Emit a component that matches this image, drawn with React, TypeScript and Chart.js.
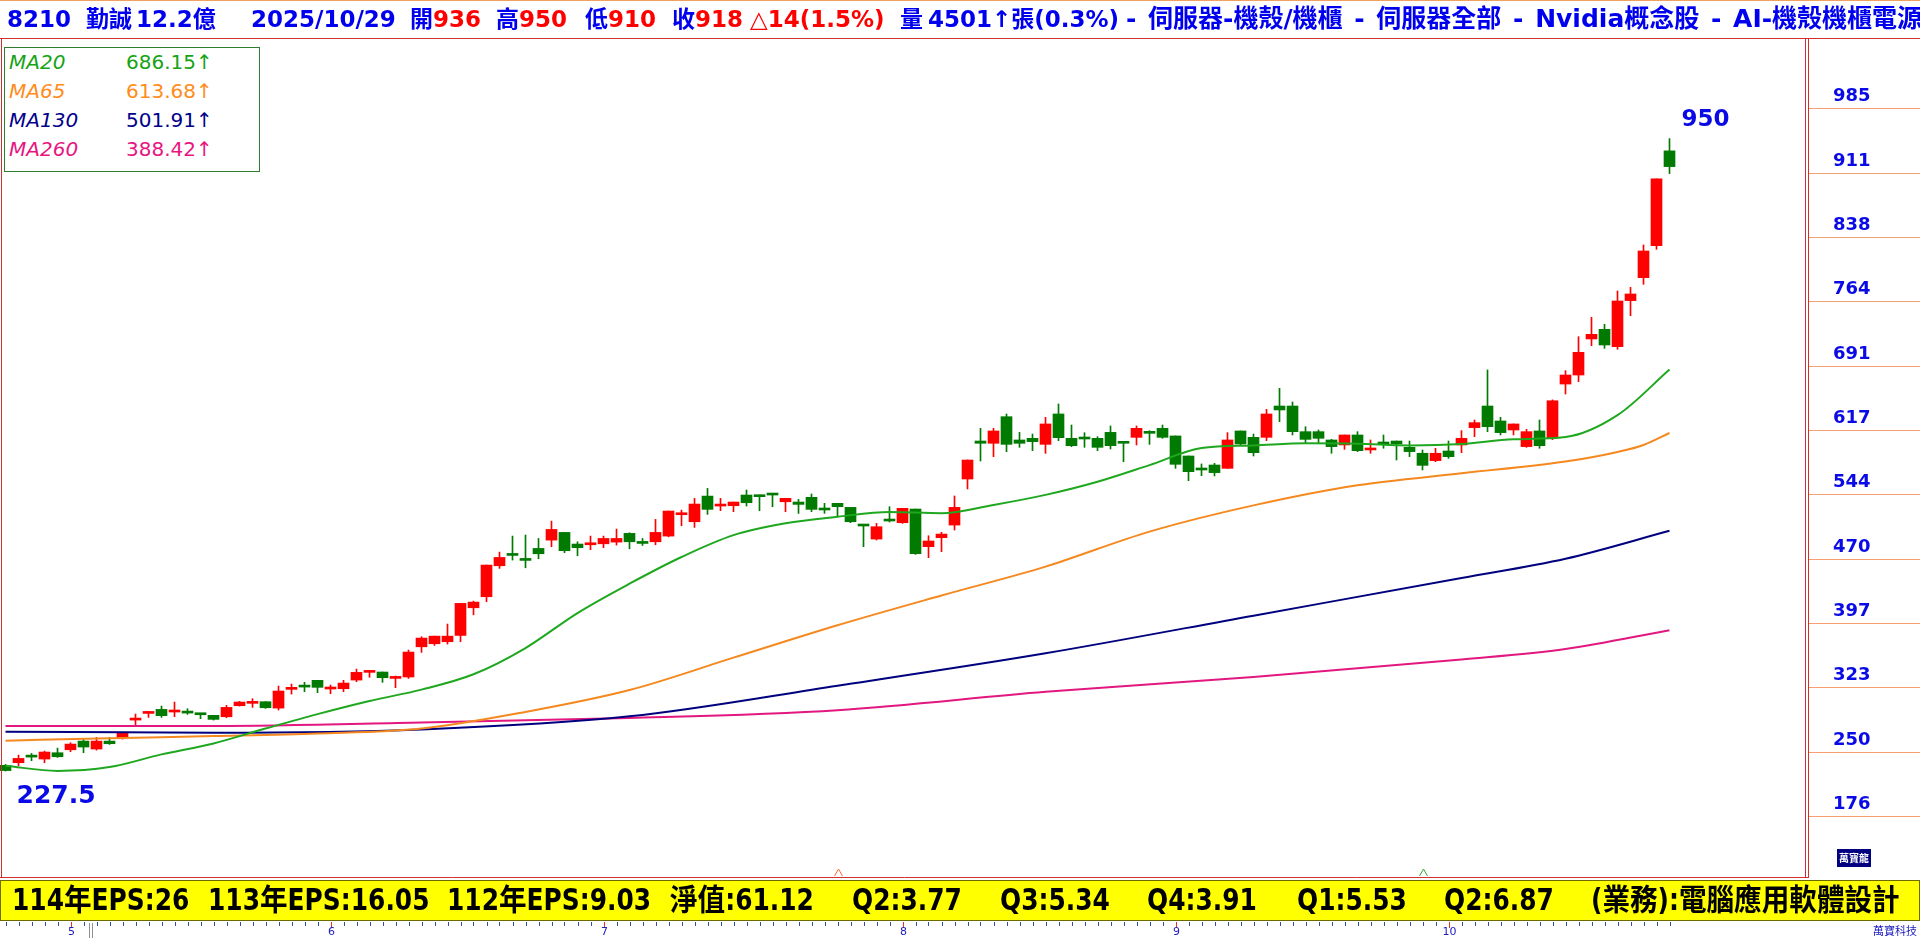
import React, { useEffect, useRef } from 'react';
import { Chart, registerables } from 'chart.js';
Chart.register(...registerables);

// ---------------- data ----------------
const opens = [234,237,243.5,241.2,248.4,251.8,261.7,252.6,261.7,265.5,
285.7,293.3,297.9,294.9,293.8,293.3,291.1,289.5,302.1,304.8,
306.7,299.4,320.8,323.5,331.1,321.2,321.5,331.4,340.2,340.6,
333.3,334.9,369.4,372.9,375.2,382.4,414,426.6,462,473.9,
468.2,481.8,491.3,500.1,486.8,486,487.1,489,499,489.8,
489.4,495.9,520.3,512.3,541.6,530.2,530.6,542.8,541,542.9,
535.1,534.8,540.2,525.8,533.3,528.7,507.5,492.5,513.2,511.2,
526.8,483.8,494.1,508.5,561.1,604.5,601.9,632.3,605.7,607.6,
600.7,635.4,607.6,606.9,607.6,614.4,602,608.7,613.4,619,
610.3,587.4,571.5,577.1,573.3,616,608.7,608.7,644.5,644.5,
615.2,615.2,605.7,600,611.4,594.3,601.2,604.5,597.3,590.5,
582.1,593.1,600,619.8,644.5,627.4,617.1,598.1,616,608,
669.6,679.9,721.1,732.1,712.3,764.9,791.1,827.7,936];

const highs = [235,245.7,247.6,250.3,253.7,259.8,264,265.9,265.9,270.5,
292.6,295.6,301.7,306.3,298.7,293.3,291.1,302.5,307.1,310.1,
306.7,324.6,326.9,328.8,331.1,325.7,331.1,344,342.1,340.6,
336,365.7,380.9,381.6,395.4,419,421.6,462.8,477.6,495.9,
497.1,493.2,513,500.1,489.4,495.9,495.9,503.9,499.7,493.2,
515,524.5,525.6,539,550.4,539,534.8,548.5,542.8,543.5,
539,537.8,544,533.3,533.3,528.7,507.5,510.4,529.5,527.6,
526.8,496.3,500.2,541.7,582.8,619,619,635.4,614.4,612.5,
631.6,646.8,622.8,614,609.5,621.7,602.6,621.7,616.3,622.8,
610.3,587.4,578.3,579,614.1,616,612.5,640.7,664.7,649.1,
620.9,617.1,606.4,611.4,615.2,605.7,611.4,604.5,604.5,594.3,
596.2,604.5,616.4,628.5,685.7,631.6,624,617.9,628.5,651.5,
684.9,723.7,745.8,737.8,775.9,780.1,828.5,904,950];

const lows = [227.5,233.5,239.3,237,243.1,249.5,248.4,251.4,257.9,264,
279.6,288.8,288.8,289.5,292.2,287.3,285.7,288.4,301.7,300.2,
299.1,297.2,315.4,318.1,317,315.8,318.1,329.5,334.5,328.8,
322.7,333.3,363,371,372.5,375.2,406,420.9,459,468.5,
459.7,470,483.7,476.9,473.4,480.3,482.6,485.6,481.4,485.2,
486,495.1,507.7,505.8,520.7,524.9,523.7,530.2,524.9,529.4,
523.7,521.8,523.8,521.9,518.8,511.2,483.8,491.4,512,510.4,
475,471.2,478.1,502.8,549.7,581.7,586.6,592.3,597.3,593.5,
590.4,604.9,598,597.3,593.5,595.4,580.9,600,600.7,607.6,
573.3,559.2,564.9,564.6,573.3,600,587.4,604.9,626.6,611.4,
602.6,602.6,590.5,595,592.4,590.5,596.2,582.8,586.6,571.4,
580.9,584.7,591.2,609.5,615.2,611.4,611.4,597.3,596.2,606,
658.2,672.3,713.4,710.4,709.3,747.7,783.5,823.5,910];

const closes = [228,241.9,243.4,249.2,243.8,258.3,254.9,261.7,258.7,270.5,
285.7,293.3,290.7,294.9,293.7,291.8,286.5,300.2,306.3,304.8,
299.8,318.9,320.8,323.4,323.1,321.2,328,340.2,340.2,334.1,
333.3,363.4,379.4,381.6,381.6,419,420.5,462.8,471.5,473.8,
468.1,475.7,503.5,479.2,482.6,486,493.2,493.2,489.4,487.5,
500.1,524.5,520.3,532.5,526.4,530.2,534.8,534,540.9,542.8,
539,532.1,526.4,525.7,529.5,512.3,507.4,506.6,513.1,527.6,
475.8,490.3,498.2,528.7,582.8,601.9,616,600.7,601.9,603.8,
624,608.3,599.2,606.8,597.3,599.2,601.9,619,613.3,608.7,
577.9,569.5,571.4,568.4,605.7,601.1,591.2,635.4,640,615.2,
606.4,607.6,598.1,611.4,593.5,594.3,601.1,601.1,592.4,576.7,
590.5,586.6,607.6,625.5,620.9,614.1,624,615.2,599.2,650.5,
679.9,705.8,726.4,714.2,764.5,772.5,821.6,904,918];

// moving averages read at sampled candle positions
const ma20Idx = [0,4,8,12,16,20,24,28,32,36,40,44,48,52,56,60,64,68,72,76,80,84,88,92,96,100,104,108,112,116,120,124,128];
const ma20 = [233.5,227.6,232,246.5,259,276,292.5,307.5,320.5,338,368,408,441.5,472,497,510.5,518,523.5,522,531.5,543,558,577,596.5,599.5,602,601.5,599.5,601,606.5,609,634,686.15];
const ma65Idx = [0,8,16,24,32,40,48,56,64,72,80,88,96,104,112,120,124,126,128];
const ma65 = [262.1,265,267.4,270.3,276,295,320,357,394,428,461,501,531,554,567.6,581,592,600,613.68];
const ma130Idx = [0,16,32,48,64,80,96,112,120,128];
const ma130 = [272.4,271.3,275,290,325,362,405,448,470,501.91];
const ma260Idx = [0,16,32,48,64,80,96,112,120,128];
const ma260 = [278.9,279,283,288,297,318,335,355,367,388.42];

const yTicks = [176,249.5,323,396.5,470,543.5,617,690.5,764,837.5,911,984.5];
const yTickLabels = ['176','250','323','397','470','544','617','691','764','838','911','985'];

const monthStartIdx = [5,25,46,69,90,111];
const monthLabels = ['5','6','7','8','9','10'];

const legendNames = ['MA20','MA65','MA130','MA260'];
const legendValues = ['686.15↑','613.68↑','501.91↑','388.42↑'];
const legendColors = ['#16a316','#ff8c1a','#00008b','#e8157f'];

const epsTexts = ['114年EPS:26','113年EPS:16.05','112年EPS:9.03','淨值:61.12','Q2:3.77','Q3:5.34','Q4:3.91','Q1:5.53','Q2:6.87','(業務):電腦應用軟體設計'];
const epsX = [12,208,447,670,852,1000,1147,1297,1444,1591];

const markerIdx = [64,109];
const markerColors = ['#ff6a3d','#2ea82e'];

const BLUE = '#0000ee';
const HRED = '#ff0000';
const headerItems: [string, number, string][] = [
  ['8210',7,BLUE],['勤誠',86,BLUE],['12.2億',136,BLUE],['2025/10/29',251,BLUE],
  ['開',410,BLUE],['936',433,HRED],['高',496,BLUE],['950',519,HRED],['低',585,BLUE],['910',608,HRED],
  ['收',672,BLUE],['918',695,HRED],['△14(1.5%)',750,HRED],['量',900,BLUE],['4501↑張(0.3%)',928,BLUE],
];
const headerTail = '- 伺服器-機殼/機櫃 - 伺服器全部 - Nvidia概念股 - AI-機殼機櫃電源';

// ---------------- geometry ----------------
const RED = '#ff0000';
const GREEN = '#007a00';
const X_MIN = -5.5 / 13;
const X_MAX = X_MIN + 1805 / 13;
const PX_PER_UNIT = (816.1 - 108.4) / (984.5 - 176);
const Y_MAX = 984.5 + (108.4 - 38) / PX_PER_UNIT;
const Y_MIN = 176 - (878 - 816.1) / PX_PER_UNIT;

const isCJK = (ch: string) => /[\u2E80-\u9FFF\uF900-\uFAFF\uFF00-\uFFEF]/.test(ch);
function drawMixed(ctx: CanvasRenderingContext2D, text: string, x: number, y: number, latinScale: number) {
  const runs: [string, boolean][] = [];
  let cur = '';
  let curC: boolean | null = null;
  for (const ch of text) {
    const c = isCJK(ch);
    if (curC === null || c === curC) { cur += ch; curC = c; }
    else { runs.push([cur, curC]); cur = ch; curC = c; }
  }
  if (cur) runs.push([cur, curC as boolean]);
  for (const [t, c] of runs) {
    const w = ctx.measureText(t).width;
    const s = c ? 0.92 : latinScale;
    ctx.save();
    ctx.translate(x, y);
    ctx.scale(s, 1);
    ctx.fillText(t, 0, 0);
    ctx.restore();
    x += w * s;
  }
}

const framePlugin = {
  id: 'frame',
  beforeDraw(chart: any) {
    const ctx = chart.ctx;
    ctx.save();
    ctx.fillStyle = '#ffffff';
    ctx.fillRect(0, 0, chart.width, chart.height);
    ctx.restore();
  },
  afterDraw(chart: any) {
    const ctx: CanvasRenderingContext2D = chart.ctx;
    const xs = chart.scales.x;
    const ys = chart.scales.y;
    ctx.save();
    const hl = (x1: number, y: number, x2: number, color: string) => {
      ctx.strokeStyle = color; ctx.lineWidth = 1; ctx.beginPath(); ctx.moveTo(x1, y); ctx.lineTo(x2, y); ctx.stroke();
    };
    const vl = (x: number, y1: number, y2: number, color: string) => {
      ctx.strokeStyle = color; ctx.lineWidth = 1; ctx.beginPath(); ctx.moveTo(x, y1); ctx.lineTo(x, y2); ctx.stroke();
    };
    // right axis grid + labels
    ctx.font = 'bold 18px "DejaVu Sans", sans-serif';
    ctx.fillStyle = '#0a0ae6';
    ctx.textBaseline = 'middle';
    ctx.textAlign = 'left';
    yTicks.forEach((v, k) => {
      const py = Math.round(ys.getPixelForValue(v)) + 0.5;
      hl(1809, py, 1920, '#f4a070');
      ctx.fillText(yTickLabels[k], 1833, py - 12);
    });
    // frame
    hl(0, 0.5, 1920, '#f0a060');
    hl(0, 38.5, 1920, '#d03030');
    vl(1.5, 38, 878, '#d03030');
    hl(0, 877.5, 1809, '#d03030');
    vl(1805.5, 38, 878, '#d03030');
    vl(1808.5, 38, 878, '#d03030');
    // markers above bottom
    markerIdx.forEach((i, k) => {
      const px = Math.round(xs.getPixelForValue(i)) + 0.5;
      ctx.strokeStyle = markerColors[k];
      ctx.beginPath(); ctx.moveTo(px - 4, 876); ctx.lineTo(px, 869); ctx.lineTo(px + 4, 876); ctx.stroke();
    });
    // price labels
    ctx.fillStyle = '#0a0ae6';
    ctx.textBaseline = 'middle';
    ctx.font = 'bold 23px "DejaVu Sans", sans-serif';
    ctx.fillText('950', xs.getPixelForValue(128) + 12, ys.getPixelForValue(950) - 19);
    ctx.font = 'bold 25px "DejaVu Sans", sans-serif';
    ctx.fillText('227.5', xs.getPixelForValue(0) + 11, ys.getPixelForValue(227.5) + 25);
    // logo
    ctx.fillStyle = '#000080';
    ctx.fillRect(1837, 849, 34, 18);
    ctx.fillStyle = '#ffffff';
    ctx.font = 'bold 10px "Noto Sans CJK TC", sans-serif';
    ctx.textAlign = 'center';
    ctx.fillText('萬寶龍', 1854, 858);
    // yellow EPS bar
    ctx.fillStyle = '#ffff00';
    ctx.fillRect(0, 880, 1920, 41);
    ctx.strokeStyle = '#6b6b00';
    ctx.strokeRect(0.5, 880.5, 1919, 40);
    ctx.fillStyle = '#000000';
    ctx.textAlign = 'left';
    ctx.textBaseline = 'middle';
    ctx.font = 'bold 30px "DejaVu Sans", "Noto Sans CJK TC", sans-serif';
    epsTexts.forEach((t, k) => drawMixed(ctx, t, epsX[k], 902, 0.83));
    // x axis ticks + month labels
    for (let i = 0; i < opens.length; i++) {
      const px = Math.round(xs.getPixelForValue(i)) + 0.5;
      vl(px, 922, 926, '#3050a0');
    }
    ctx.font = '11px "DejaVu Sans", sans-serif';
    ctx.textAlign = 'center';
    monthStartIdx.forEach((i, k) => {
      const px = Math.round(xs.getPixelForValue(i)) + 0.5;
      vl(px, 922, 928, '#e03030');
      ctx.fillStyle = '#2020c0';
      ctx.fillText(monthLabels[k], px, 932);
    });
    vl(89.5, 923, 938, '#909090');
    vl(92.5, 923, 938, '#909090');
    ctx.font = '11px "Noto Sans CJK TC", sans-serif';
    ctx.fillStyle = '#2020c0';
    ctx.fillText('萬寶科技', 1895, 931);
    ctx.restore();
  },
};

const headFont = 'bold 23px "DejaVu Sans", "Noto Sans CJK TC", sans-serif';
const tailFont = 'bold 25px "DejaVu Sans", "Noto Sans CJK TC", sans-serif';

export default function App() {
  const ref = useRef<HTMLCanvasElement>(null);
  useEffect(() => {
    document.body.style.margin = '0';
    const canvas = ref.current!;
    const idx = opens.map((_, i) => i);
    const candleColor = idx.map(i => (closes[i] >= opens[i] ? RED : GREEN));
    const mk = (ix: number[], vals: number[]) => ix.map((x, k) => ({ x, y: vals[k] }));
    const lineDs = (label: string, data: any[], color: string) => ({
      type: 'line' as const, label, data, borderColor: color, borderWidth: 2,
      pointRadius: 0, cubicInterpolationMode: 'monotone' as const, order: 0, fill: false,
    });
    const chart = new Chart(canvas, {
      type: 'bar',
      data: {
        datasets: [
          lineDs('MA20', mk(ma20Idx, ma20), '#1fa81f'),
          lineDs('MA65', mk(ma65Idx, ma65), '#f5891f'),
          lineDs('MA130', mk(ma130Idx, ma130), '#00007f'),
          lineDs('MA260', mk(ma260Idx, ma260), '#e2177f'),
          {
            type: 'bar', label: 'wick',
            data: idx.map(i => ({ x: i, y: [lows[i], highs[i]] })) as any,
            backgroundColor: candleColor, barThickness: 1, grouped: false, order: 2, borderWidth: 0,
          },
          {
            type: 'bar', label: 'body',
            data: idx.map(i => ({ x: i, y: [opens[i], closes[i]] })) as any,
            backgroundColor: candleColor, barThickness: 11, grouped: false, order: 1, borderWidth: 0,
            minBarLength: 2,
          },
        ] as any,
      },
      options: {
        animation: false,
        responsive: false,
        devicePixelRatio: 1,
        events: [],
        layout: { padding: { left: 0, right: 115, top: 38, bottom: 60 } },
        scales: {
          x: { type: 'linear', min: X_MIN, max: X_MAX, display: false, offset: false },
          y: { type: 'linear', min: Y_MIN, max: Y_MAX, display: false },
        },
        plugins: { legend: { display: false }, tooltip: { enabled: false } },
      },
      plugins: [framePlugin],
    } as any);
    return () => chart.destroy();
  }, []);

  return (
    <div style={{ position: 'fixed', left: 0, top: 0, width: 1920, height: 938, background: '#fff', overflow: 'hidden' }}>
      <canvas ref={ref} width={1920} height={938} style={{ position: 'absolute', left: 0, top: 0, width: 1920, height: 938 }} />
      {headerItems.map(([t, x, c], k) => (
        <span key={k} style={{ position: 'absolute', left: x, top: 5, color: c, whiteSpace: 'nowrap',
          font: headFont, lineHeight: '28px' }}>{t}</span>
      ))}
      <span style={{ position: 'absolute', left: 1126, top: 4, color: BLUE, whiteSpace: 'pre',
        font: tailFont, lineHeight: '30px', wordSpacing: '3px' }}>{headerTail}</span>
      <div style={{ position: 'absolute', left: 4, top: 47, width: 254, height: 123, border: '1px solid #2e7d2e', background: '#fff' }}>
        {legendNames.map((n, k) => (
          <div key={k} style={{ position: 'absolute', top: 2 + k * 29, left: 4, height: 29, lineHeight: '29px', color: legendColors[k],
            font: '20px "DejaVu Sans", sans-serif', whiteSpace: 'nowrap' }}>
            <span style={{ fontStyle: 'italic', position: 'absolute', left: 0 }}>{n}</span>
            <span style={{ position: 'absolute', left: 117 }}>{legendValues[k]}</span>
          </div>
        ))}
      </div>
    </div>
  );
}
